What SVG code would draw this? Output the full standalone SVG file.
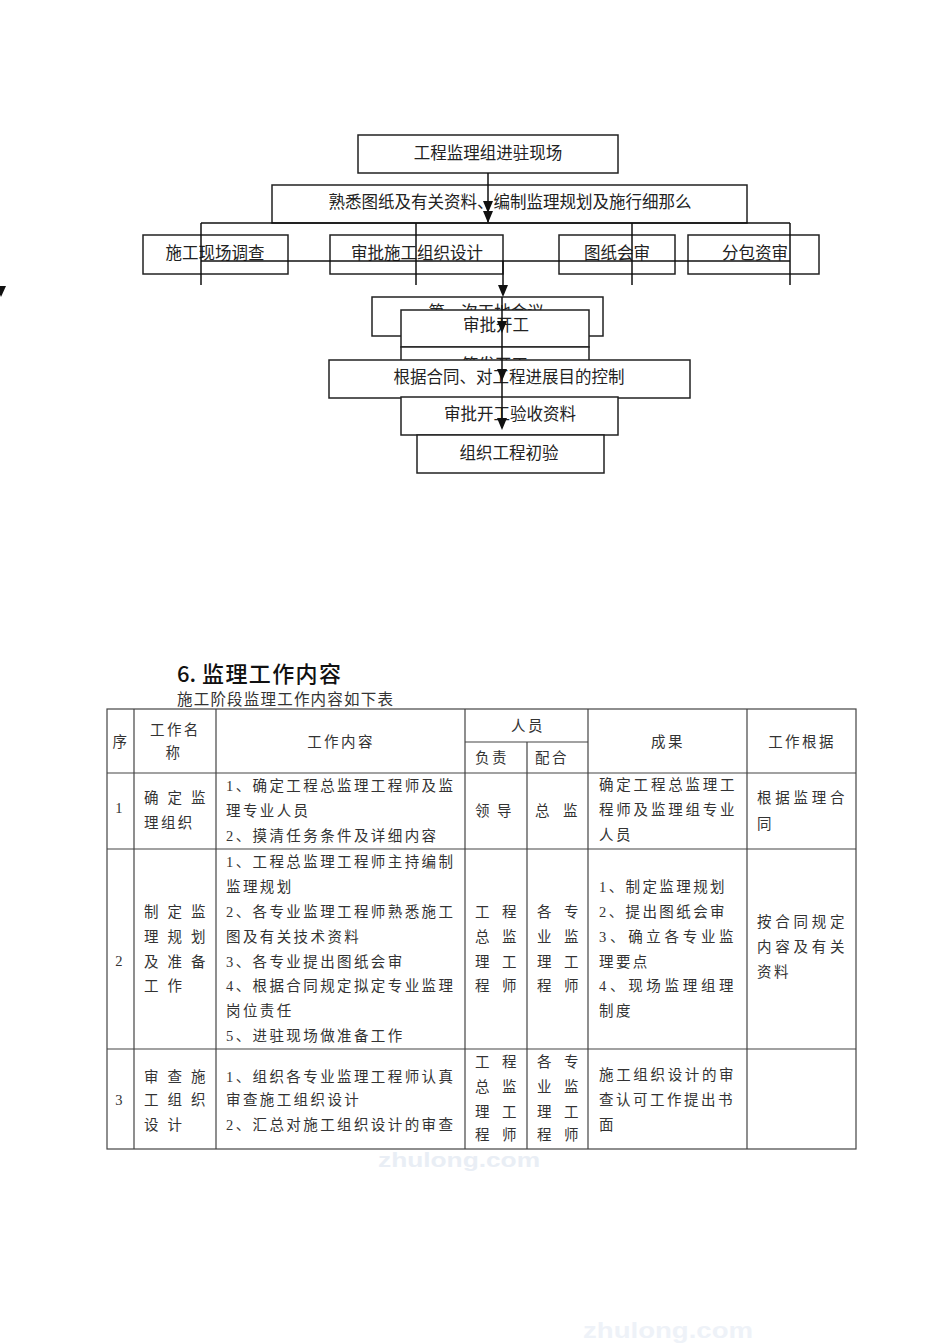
<svg xmlns="http://www.w3.org/2000/svg" width="950" height="1344" viewBox="0 0 950 1344">
<style>
.box{fill:#fff;stroke:#222;stroke-width:1.5}
.fc{font-family:"Noto Sans CJK SC",sans-serif;font-size:16.5px;fill:#222;text-anchor:middle;dominant-baseline:central}
.ln{stroke:#111;stroke-width:1.5;fill:none}
.ah{fill:#111}
.tl{stroke:#444;stroke-width:1.2;fill:none}
.t{font-family:"Liberation Serif","Noto Sans CJK SC",serif;font-size:14.5px;fill:#333;letter-spacing:2.4px;dominant-baseline:central}
.c{text-anchor:middle}
.wm{font-family:"Liberation Sans",sans-serif;font-weight:bold;dominant-baseline:central}
.h{font-family:"Noto Sans CJK SC",sans-serif;font-size:22px;font-weight:500;fill:#111;dominant-baseline:central}
</style>
<rect width="950" height="1344" fill="#fff"/>

<!-- watermarks -->
<text class="wm" x="583" y="1330" font-size="22" fill="#eef2f8" textLength="170" lengthAdjust="spacingAndGlyphs">zhulong.com</text>
<text class="wm" x="378" y="1160" font-size="20" fill="#e9eef5" textLength="162" lengthAdjust="spacingAndGlyphs">zhulong.com</text>

<!-- flowchart upper -->
<g id="n-jinzhu"><rect class="box" x="358" y="135" width="260" height="38"/><text class="fc" x="488" y="152">工程监理组进驻现场</text></g>
<g id="n-shuxi"><rect class="box" x="272" y="185" width="475" height="38"/><text class="fc" x="510" y="201">熟悉图纸及有关资料、编制监理规划及施行细那么</text></g>
<g id="n-diaocha"><rect class="box" x="143" y="235" width="145" height="39"/><text class="fc" x="215" y="252">施工现场调查</text></g>
<g id="n-shenpisheji"><rect class="box" x="330" y="235" width="173" height="39"/><text class="fc" x="417" y="252">审批施工组织设计</text></g>
<g id="n-huishen"><rect class="box" x="559" y="235" width="116" height="39"/><text class="fc" x="617" y="252">图纸会审</text></g>
<g id="n-fenbao"><rect class="box" x="688" y="235" width="131" height="39"/><text class="fc" x="755" y="252">分包资审</text></g>

<!-- flowchart lower -->
<g id="n-huiyi"><rect class="box" x="372" y="297" width="231" height="39"/><text class="fc" x="486" y="311">第一次工地会议</text></g>
<g id="n-shenpikaigong"><rect class="box" x="401" y="310" width="188" height="37"/><text class="fc" x="496" y="324">审批开工</text></g>
<g id="n-qianfa"><rect class="box" x="401" y="347" width="188" height="38"/><text class="fc" x="495" y="364">签发开工</text></g>
<g id="n-kongzhi"><rect class="box" x="329" y="360" width="361" height="38"/><text class="fc" x="509" y="376">根据合同、对工程进展目的控制</text></g>
<g id="n-yanshou"><rect class="box" x="401" y="397" width="217" height="38"/><text class="fc" x="510" y="413">审批开工验收资料</text></g>
<g id="n-chuyan"><rect class="box" x="417" y="435" width="187" height="38"/><text class="fc" x="509" y="452">组织工程初验</text></g>

<g id="connectors">
<line class="ln" x1="488" y1="173" x2="488" y2="222"/>
<polygon class="ah" points="483,201 493,201 488,213"/>
<polygon class="ah" points="483,211 493,211 488,223"/>
<line class="ln" x1="201" y1="223" x2="790" y2="223"/>
<line class="ln" x1="201" y1="223" x2="201" y2="285"/>
<line class="ln" x1="416" y1="223" x2="416" y2="285"/>
<line class="ln" x1="632" y1="223" x2="632" y2="285"/>
<line class="ln" x1="790" y1="223" x2="790" y2="285"/>
<line class="ln" x1="201" y1="261" x2="790" y2="261"/>
<line class="ln" x1="503" y1="261" x2="503" y2="290"/>
<polygon class="ah" points="498,285 508,285 503,297"/>
<line class="ln" x1="502" y1="297" x2="502" y2="428"/>
<polygon class="ah" points="497,321 507,321 502,333"/>
<polygon class="ah" points="497,369 507,369 502,381"/>
<polygon class="ah" points="497,418 507,418 502,430"/>
<polygon class="ah" points="-4,286 6,286 1,297"/>
</g>

<!-- heading -->
<g id="heading">
<text class="h" x="177" y="672">6.</text>
<text class="h" x="202" y="672" textLength="139" lengthAdjust="spacing">监理工作内容</text>
<text x="177" y="698" font-family="Noto Sans CJK SC,sans-serif" font-size="15.5" letter-spacing="1.2" fill="#333" dominant-baseline="central">施工阶段监理工作内容如下表</text>
</g>

<!-- table -->
<g id="table-grid">
<rect class="tl" x="107" y="709" width="749" height="440" stroke-width="1.5"/>
<line class="tl" x1="107" y1="773" x2="856" y2="773"/>
<line class="tl" x1="107" y1="849" x2="856" y2="849"/>
<line class="tl" x1="107" y1="1049" x2="856" y2="1049"/>
<line class="tl" x1="465" y1="742" x2="588" y2="742"/>
<line class="tl" x1="134" y1="709" x2="134" y2="1149"/>
<line class="tl" x1="216" y1="709" x2="216" y2="1149"/>
<line class="tl" x1="465" y1="709" x2="465" y2="1149"/>
<line class="tl" x1="527" y1="742" x2="527" y2="1149"/>
<line class="tl" x1="588" y1="709" x2="588" y2="1149"/>
<line class="tl" x1="747" y1="709" x2="747" y2="1149"/>
</g>

<g id="table-header">
<text class="t c" x="121" y="742">序</text>
<text class="t" x="150" y="730">工作名</text>
<text class="t c" x="174" y="753">称</text>
<text class="t c" x="341" y="742">工作内容</text>
<text class="t c" x="528" y="726">人员</text>
<text class="t" x="475" y="758">负责</text>
<text class="t" x="535" y="758">配合</text>
<text class="t c" x="668" y="742">成果</text>
<text class="t c" x="802" y="742">工作根据</text>
</g>

<g id="row-1">
<text class="t c" x="120" y="808">1</text>
<text class="t" x="144 167.5 191" y="798">确定监</text>
<text class="t" x="144" y="823">理组织</text>
<text class="t" x="226" y="786">1、确定工程总监理工程师及监</text>
<text class="t" x="226" y="811">理专业人员</text>
<text class="t" x="226" y="836">2、摸清任务条件及详细内容</text>
<text class="t" x="475 497" y="811">领导</text>
<text class="t" x="535 563" y="811">总监</text>
<text class="t" x="599" y="785" textLength="138" lengthAdjust="spacing">确定工程总监理工</text>
<text class="t" x="599" y="810" textLength="138" lengthAdjust="spacing">程师及监理组专业</text>
<text class="t" x="599" y="835">人员</text>
<text class="t" x="757" y="798" textLength="90" lengthAdjust="spacing">根据监理合</text>
<text class="t" x="757" y="824">同</text>
</g>

<g id="row-2">
<text class="t c" x="120" y="961">2</text>
<text class="t" x="144 167.5 191" y="912">制定监</text>
<text class="t" x="144 167.5 191" y="937">理规划</text>
<text class="t" x="144 167.5 191" y="962">及准备</text>
<text class="t" x="144 167.5" y="986">工作</text>
<text class="t" x="226" y="862">1、工程总监理工程师主持编制</text>
<text class="t" x="226" y="887">监理规划</text>
<text class="t" x="226" y="912">2、各专业监理工程师熟悉施工</text>
<text class="t" x="226" y="937">图及有关技术资料</text>
<text class="t" x="226" y="962">3、各专业提出图纸会审</text>
<text class="t" x="226" y="986">4、根据合同规定拟定专业监理</text>
<text class="t" x="226" y="1011">岗位责任</text>
<text class="t" x="226" y="1036">5、进驻现场做准备工作</text>
<text class="t" x="475 502" y="912">工程</text>
<text class="t" x="475 502" y="937">总监</text>
<text class="t" x="475 502" y="962">理工</text>
<text class="t" x="475 502" y="986">程师</text>
<text class="t" x="537 564" y="912">各专</text>
<text class="t" x="537 564" y="937">业监</text>
<text class="t" x="537 564" y="962">理工</text>
<text class="t" x="537 564" y="986">程师</text>
<text class="t" x="599" y="887">1、制定监理规划</text>
<text class="t" x="599" y="912">2、提出图纸会审</text>
<text class="t" x="599" y="937" textLength="137" lengthAdjust="spacing">3、确立各专业监</text>
<text class="t" x="599" y="962">理要点</text>
<text class="t" x="599" y="986" textLength="137" lengthAdjust="spacing">4、现场监理组理</text>
<text class="t" x="599" y="1011">制度</text>
<text class="t" x="757" y="922" textLength="90" lengthAdjust="spacing">按合同规定</text>
<text class="t" x="757" y="947" textLength="90" lengthAdjust="spacing">内容及有关</text>
<text class="t" x="757" y="972">资料</text>
</g>

<g id="row-3">
<text class="t c" x="120" y="1100">3</text>
<text class="t" x="144 167.5 191" y="1077">审查施</text>
<text class="t" x="144 167.5 191" y="1100">工组织</text>
<text class="t" x="144 167.5" y="1125">设计</text>
<text class="t" x="226" y="1077">1、组织各专业监理工程师认真</text>
<text class="t" x="226" y="1100">审查施工组织设计</text>
<text class="t" x="226" y="1125">2、汇总对施工组织设计的审查</text>
<text class="t" x="475 502" y="1062">工程</text>
<text class="t" x="475 502" y="1087">总监</text>
<text class="t" x="475 502" y="1112">理工</text>
<text class="t" x="475 502" y="1135">程师</text>
<text class="t" x="537 564" y="1062">各专</text>
<text class="t" x="537 564" y="1087">业监</text>
<text class="t" x="537 564" y="1112">理工</text>
<text class="t" x="537 564" y="1135">程师</text>
<text class="t" x="599" y="1075" textLength="137" lengthAdjust="spacing">施工组织设计的审</text>
<text class="t" x="599" y="1100" textLength="136" lengthAdjust="spacing">查认可工作提出书</text>
<text class="t" x="599" y="1125">面</text>
</g>
</svg>
